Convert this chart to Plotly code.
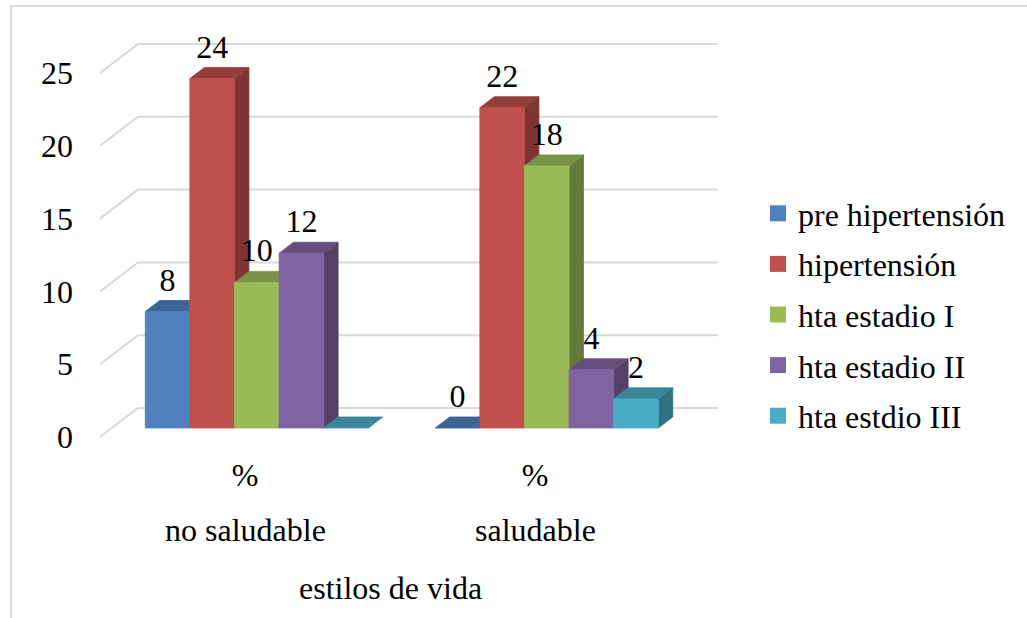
import plotly.graph_objects as go

# ---------------- data ----------------
categories = ["no saludable", "saludable"]
sub_labels = ["%", "%"]
series_names = ["pre hipertensión", "hipertensión", "hta estadio I", "hta estadio II", "hta estdio III"]
pre_hipertension = [8, 0]
hipertension = [24, 22]
hta_estadio_1 = [10, 18]
hta_estadio_2 = [12, 4]
hta_estadio_3 = [0, 2]
series_values = [pre_hipertension, hipertension, hta_estadio_1, hta_estadio_2, hta_estadio_3]
# data labels shown in the original (the 0 of "hta estdio III" in "no saludable" has no label)
label_shown = [[True, True], [True, True], [True, True], [True, True], [False, True]]
y_ticks = [0, 5, 10, 15, 20, 25]
axis_title = "estilos de vida"

# ---------------- style / geometry ----------------
front_colors = ["#4F81BD", "#C0504D", "#9BBB59", "#8064A2", "#4BACC6"]
top_colors = ["#3D6494", "#963E3C", "#799245", "#644E7E", "#3A869A"]
side_colors = ["#33547B", "#7D3432", "#657A3A", "#534169", "#317081"]
FONT = "Liberation Serif"
FS = 32

W, H = 1027, 618
ML, MR, MT, MB = 100, 307, 30, 168
PX_X = 290.0      # pixels per category unit
PX_Y = 14.56      # pixels per value unit
plot_w = W - ML - MR
plot_h = H - MT - MB
x_range = [-0.5, -0.5 + plot_w / PX_X]
y_bottom = -13 / PX_Y
y_range = [y_bottom, y_bottom + plot_h / PX_Y]

DX = 38 / PX_X    # depth offset in x units
DY = 29 / PX_Y    # depth offset in y units
T1, T2 = 0.31, 0.69
n_series = len(series_names)
bw = 1 / (n_series + 1.5)
LABEL_LIFT = 18 / PX_Y

fig = go.Figure()

# gridlines (front-left diagonal + back wall)
gx, gy = [], []
for v in y_ticks:
    gx += [-0.5, -0.5 + DX, len(categories) - 0.5 + DX, None]
    gy += [v, v + DY, v + DY, None]
fig.add_trace(go.Scatter(x=gx, y=gy, mode="lines", line=dict(color="#D9D9D9", width=2),
                         hoverinfo="skip", showlegend=False))

def poly(xs, ys, color):
    fig.add_trace(go.Scatter(x=xs + [xs[0]], y=ys + [ys[0]], mode="lines", fill="toself",
                             fillcolor=color, line=dict(color=color, width=0.8),
                             hoverinfo="skip", showlegend=False))

lab_x, lab_y, lab_t = [], [], []
for i in range(len(categories)):
    for j in range(n_series):
        v = series_values[j][i]
        x0 = i - 0.5 + 0.75 * bw + j * bw
        x1 = x0 + bw
        if v > 0:
            poly([x1 + T1 * DX, x1 + T2 * DX, x1 + T2 * DX, x1 + T1 * DX],
                 [T1 * DY, T2 * DY, v + T2 * DY, v + T1 * DY], side_colors[j])
        poly([x0 + T1 * DX, x1 + T1 * DX, x1 + T2 * DX, x0 + T2 * DX],
             [v + T1 * DY, v + T1 * DY, v + T2 * DY, v + T2 * DY], top_colors[j])
        if v > 0:
            poly([x0 + T1 * DX, x1 + T1 * DX, x1 + T1 * DX, x0 + T1 * DX],
                 [T1 * DY, T1 * DY, v + T1 * DY, v + T1 * DY], front_colors[j])
        if label_shown[j][i]:
            lab_x.append((x0 + x1) / 2 + T1 * DX)
            lab_y.append(v + T2 * DY + LABEL_LIFT)
            lab_t.append(str(v))

fig.add_trace(go.Scatter(x=lab_x, y=lab_y, text=lab_t, mode="text", textposition="middle center",
                         textfont=dict(family=FONT, size=FS, color="black"),
                         hoverinfo="skip", showlegend=False))

for j, name in enumerate(series_names):
    fig.add_trace(go.Scatter(x=[None], y=[None], mode="markers", name=name, legendgroup=name,
                             marker=dict(symbol="square", size=16, color=front_colors[j])))

annotations = []
for i, c in enumerate(categories):
    annotations.append(dict(x=i, y=-(530 - (H - MB)) / plot_h, xref="x", yref="paper", text=c,
                            showarrow=False, yanchor="middle", xanchor="center",
                            font=dict(family=FONT, size=FS, color="black")))
annotations.append(dict(x=(len(categories) - 1) / 2, y=-(588 - (H - MB)) / plot_h, xref="x", yref="paper",
                        text=axis_title, showarrow=False, yanchor="middle", xanchor="center",
                        font=dict(family=FONT, size=FS, color="black")))

fig.update_layout(
    width=W, height=H,
    margin=dict(l=ML, r=MR, t=MT, b=MB),
    paper_bgcolor="white", plot_bgcolor="white",
    font=dict(family=FONT, size=FS, color="black"),
    xaxis=dict(range=x_range, showgrid=False, zeroline=False, showline=False,
               tickmode="array", tickvals=list(range(len(categories))), ticktext=sub_labels,
               ticks="", ticklabelstandoff=3, tickfont=dict(family=FONT, size=FS, color="black"),
               fixedrange=True),
    yaxis=dict(range=y_range, showgrid=False, zeroline=False, showline=False,
               tickmode="array", tickvals=y_ticks, ticks="", ticklabelstandoff=26,
               tickfont=dict(family=FONT, size=FS, color="black"), fixedrange=True),
    legend=dict(x=(758 - ML) / plot_w, y=(H - MB - 186) / plot_h, xanchor="left", yanchor="top",
                font=dict(family=FONT, size=FS, color="black"), tracegroupgap=6,
                traceorder="grouped", bgcolor="rgba(0,0,0,0)"),
    annotations=annotations,
    shapes=[dict(type="rect", xref="paper", yref="paper",
                 x0=(11 - ML) / plot_w, x1=(W + 20 - ML) / plot_w,
                 y0=-(H + 20 - (H - MB)) / plot_h, y1=(H - MB - 6) / plot_h,
                 line=dict(color="#D9D9D9", width=2), fillcolor="rgba(0,0,0,0)", layer="below")],
    showlegend=True,
)

fig.write_html("out.html")
